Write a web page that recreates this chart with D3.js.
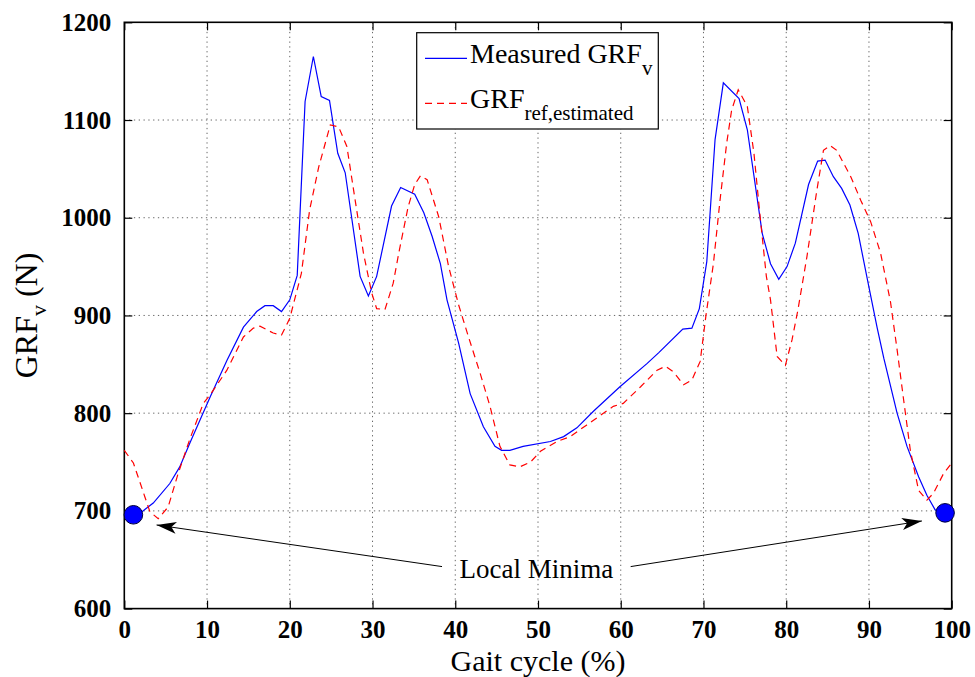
<!DOCTYPE html>
<html>
<head>
	<meta charset="utf-8">
	<style>
		body { margin: 0; background: #fff; }
		text { font-family: 'Liberation Serif', 'Times New Roman', serif; }
	</style>
</head>
<body>

	<div id="graph"></div>

	<script src="https://cdnjs.cloudflare.com/ajax/libs/d3/7.8.5/d3.min.js"></script>

	<script>
		// measured GRFv (solid blue)
		const measX = [1.1, 2.1, 3.5, 5.5, 6.7, 7.9, 9.15, 10.4, 12.4, 14.4, 16, 17, 18, 19, 20, 20.9, 21.85, 22.85, 23.8, 24.8, 25.8, 26.7, 28.5, 29.5, 30.5, 32.3, 33.4, 35.1, 36.2, 37.2, 38.2, 39.0, 40.4, 41.8, 43.4, 44.8, 45.6, 46.6, 48.2, 51.5, 53.1, 54.7, 56.7, 59.9, 63.2, 64.6, 67.5, 68.6, 69.5, 70.4, 71.4, 72.4, 74.3, 75.3, 77.1, 78.1, 79.1, 80.1, 81.1, 82.7, 83.8, 84.7, 85.7, 86.7, 87.7, 88.7, 89.9, 91, 91.8, 93.4, 94.6, 96, 97, 98, 99.2];
		const measY = [696, 699, 708, 728, 745, 769, 793, 817, 854, 888, 904, 910, 910, 904, 916, 941, 1119, 1165, 1124, 1120, 1066, 1046, 940, 920, 940, 1012, 1031, 1024, 1005, 981, 953, 916, 872, 820, 786, 766, 762, 762, 766, 771, 776, 785, 802, 827, 851, 862, 886, 887, 907, 955, 1080, 1138, 1122, 1090, 984, 953, 937, 950, 974, 1034, 1058, 1059, 1042, 1030, 1013, 984, 933, 887, 856, 800, 766, 735, 716, 701, 698];

		// estimated reference GRF (dashed red)
		const estX = [0, 1.1, 2.5, 3.1, 4.1, 5.3, 6.5, 7.9, 9.55, 10.4, 12.4, 14.4, 15.6, 16.4, 18, 19, 20, 21.4, 22.4, 23.5, 24.9, 25.9, 26.9, 27.9, 28.9, 29.9, 30.5, 31.5, 32.5, 33.2, 34.3, 35.1, 35.8, 36.6, 38, 39.2, 40.4, 41.6, 43, 44.2, 45.4, 46.6, 47.8, 49.1, 50.3, 52.3, 53.9, 55.9, 59.1, 60.3, 62.4, 64.4, 65.4, 66.4, 67.6, 68.6, 69.6, 70.3, 71.2, 72, 72.8, 73.4, 74.2, 75.3, 76.1, 76.8, 77.6, 78.1, 78.9, 79.9, 80.7, 81.4, 82.5, 83.7, 84.5, 85.3, 86.1, 87.8, 89, 90.2, 91.4, 92.6, 93.4, 94.2, 95, 96, 97, 97.8, 99, 100];
		const estY = [762, 749, 714, 699, 692, 704, 738, 773, 810, 819, 844, 878, 887, 889, 882, 880, 897, 943, 1008, 1052, 1095, 1093, 1073, 1018, 964, 923, 907, 906, 933, 965, 1011, 1034, 1043, 1039, 1001, 950, 911, 878, 841, 807, 766, 747, 745, 750, 761, 771, 776, 788, 807, 810, 827, 844, 848, 842, 829, 834, 853, 900, 953, 1018, 1076, 1110, 1131, 1114, 1066, 1005, 940, 916, 858, 849, 875, 905, 960, 1028, 1069, 1074, 1069, 1042, 1018, 996, 964, 914, 865, 813, 762, 721, 711, 718, 738, 749];

		// local minima markers
		const minimaX = [1.1, 99.2];
		const minimaY = [696, 698];

		const xTicks = [0, 10, 20, 30, 40, 50, 60, 70, 80, 90, 100];
		const yTicks = [600, 700, 800, 900, 1000, 1100, 1200];

		const noteText = 'Local Minima';
		const noteAt = [49.8, 641];
		// arrows: [from x, from y, to x, to y]
		const arrows = [[38.4, 643, 3.9, 685.6], [61.2, 643, 96.4, 689.7]];

		const W = 975;
		const H = 677;
		const margin = { left: 124.3, top: 22.3, right: 975 - 951.7, bottom: 677 - 608.6 };

		const svg = d3.select('#graph')
			.append('svg')
			.attr('width', W)
			.attr('height', H)
			.style('display', 'block');

		const x = d3.scaleLinear().domain([0, 100]).range([margin.left, W - margin.right]);
		const y = d3.scaleLinear().domain([600, 1200]).range([H - margin.bottom, margin.top]);

		const x0 = x.range()[0], x1 = x.range()[1];
		const y0 = y.range()[0], y1 = y.range()[1];

		// grid
		const grid = svg.append('g')
			.attr('stroke', '#666')
			.attr('stroke-width', 1)
			.attr('stroke-dasharray', '1.3,3.5');

		xTicks.slice(1, -1).forEach(t => {
			grid.append('line')
				.attr('x1', x(t)).attr('x2', x(t))
				.attr('y1', y1).attr('y2', y0);
		});
		yTicks.slice(1, -1).forEach(t => {
			grid.append('line')
				.attr('x1', x0).attr('x2', x1)
				.attr('y1', y(t)).attr('y2', y(t));
		});

		// axes with inward ticks on all four sides
		const tickLen = 8;
		const mkAxis = (axis, tr) => svg.append('g')
			.attr('transform', tr)
			.call(axis)
			.call(g => g.select('.domain').remove())
			.call(g => g.selectAll('line').attr('stroke', '#000').attr('stroke-width', 1.2))
			.call(g => g.selectAll('text')
				.attr('font-family', "'Liberation Serif', 'Times New Roman', serif")
				.attr('font-size', 25)
				.attr('font-weight', 'bold')
				.attr('fill', '#000'));

		mkAxis(d3.axisBottom(x).tickValues(xTicks).tickSize(-tickLen).tickPadding(12).tickFormat(d3.format('d')),
			`translate(0, ${y0})`);
		mkAxis(d3.axisLeft(y).tickValues(yTicks).tickSize(-tickLen).tickPadding(13).tickFormat(d3.format('d')),
			`translate(${x0}, 0)`);
		mkAxis(d3.axisTop(x).tickValues(xTicks).tickSize(-tickLen).tickFormat(''),
			`translate(0, ${y1})`);
		mkAxis(d3.axisRight(y).tickValues(yTicks).tickSize(-tickLen).tickFormat(''),
			`translate(${x1}, 0)`);

		svg.append('rect')
			.attr('x', x0).attr('y', y1)
			.attr('width', x1 - x0).attr('height', y0 - y1)
			.attr('fill', 'none')
			.attr('stroke', '#000')
			.attr('stroke-width', 1.6);

		// lines
		const createLine = d3.line()
			.x(d => x(d[0]))
			.y(d => y(d[1]));

		svg.append('path')
			.attr('d', createLine(measX.map((v, i) => [v, measY[i]])))
			.attr('fill', 'none')
			.attr('stroke', '#0000ff')
			.attr('stroke-width', 1.2);

		svg.append('path')
			.attr('d', createLine(estX.map((v, i) => [v, estY[i]])))
			.attr('fill', 'none')
			.attr('stroke', '#ff0000')
			.attr('stroke-width', 1.2)
			.attr('stroke-dasharray', '7,5');

		// markers
		minimaX.forEach((v, i) => {
			svg.append('circle')
				.attr('cx', x(v))
				.attr('cy', y(minimaY[i]))
				.attr('r', 9.3)
				.attr('fill', '#0000ff')
				.attr('stroke', '#00003a')
				.attr('stroke-width', 1);
		});

		// annotation arrows
		svg.append('defs').append('marker')
			.attr('id', 'head')
			.attr('viewBox', '0 0 20 12')
			.attr('refX', 20).attr('refY', 6)
			.attr('markerWidth', 20).attr('markerHeight', 12)
			.attr('markerUnits', 'userSpaceOnUse')
			.attr('orient', 'auto')
			.append('path')
			.attr('d', 'M0,0 L20,6 L0,12 L5,6 Z')
			.attr('fill', '#000');

		arrows.forEach(a => {
			svg.append('line')
				.attr('x1', x(a[0])).attr('y1', y(a[1]))
				.attr('x2', x(a[2])).attr('y2', y(a[3]))
				.attr('stroke', '#000')
				.attr('stroke-width', 1)
				.attr('marker-end', 'url(#head)');
		});

		svg.append('text')
			.attr('x', x(noteAt[0]))
			.attr('y', y(noteAt[1]))
			.attr('text-anchor', 'middle')
			.attr('dominant-baseline', 'central')
			.attr('font-size', 27)
			.text(noteText);

		// axis titles
		svg.append('text')
			.attr('x', (x0 + x1) / 2)
			.attr('y', 671)
			.attr('text-anchor', 'middle')
			.attr('font-size', 30)
			.text('Gait cycle (%)');

		const yl = svg.append('text')
			.attr('transform', `translate(37, ${(y0 + y1) / 2}) rotate(-90)`)
			.attr('text-anchor', 'middle')
			.attr('font-size', 32);
		yl.append('tspan').text('GRF');
		yl.append('tspan').attr('font-size', 22).attr('dy', 9).text('v');
		yl.append('tspan').attr('dy', -9).text(' (N)');

		// legend
		const lg = svg.append('g');
		lg.append('rect')
			.attr('x', 416.7).attr('y', 32.7)
			.attr('width', 241.6).attr('height', 96.3)
			.attr('fill', '#fff')
			.attr('stroke', '#000')
			.attr('stroke-width', 1.2);

		const legendItems = [
			{ label: 'Measured GRF', sub: 'v', color: '#0000ff', dash: null, yy: 58.3 },
			{ label: 'GRF', sub: 'ref,estimated', color: '#ff0000', dash: '7,5', yy: 103.3 }
		];

		legendItems.forEach(it => {
			lg.append('line')
				.attr('x1', 425).attr('x2', 467)
				.attr('y1', it.yy).attr('y2', it.yy)
				.attr('stroke', it.color)
				.attr('stroke-width', 1.2)
				.attr('stroke-dasharray', it.dash);
			const t = lg.append('text')
				.attr('x', 470)
				.attr('y', it.yy + 5)
				.attr('font-size', 28);
			t.append('tspan').text(it.label);
			t.append('tspan').attr('font-size', 21).attr('dy', 12).text(it.sub);
		});
	</script>

</body>
</html>
